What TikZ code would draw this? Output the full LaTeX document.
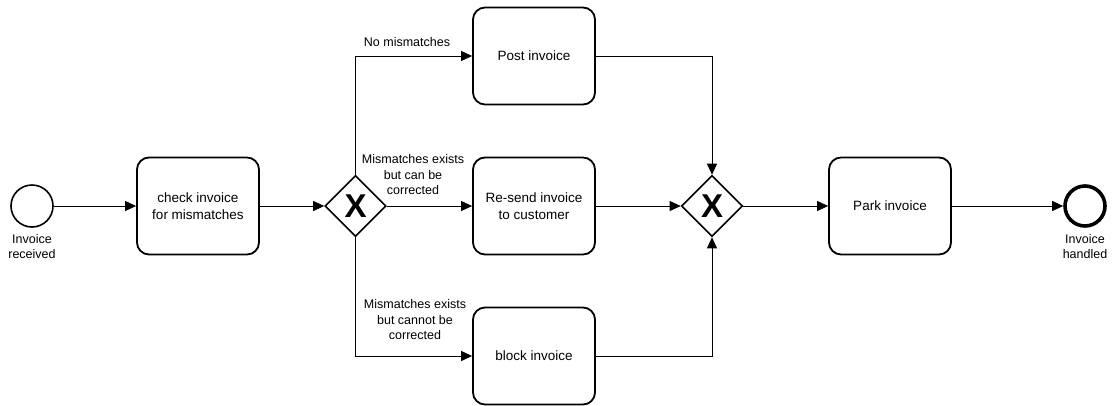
\documentclass[tikz,border=0pt]{standalone}
\usepackage{fontspec}
\setmainfont{Liberation Sans}
\usetikzlibrary{arrows.meta,shapes.geometric}
\begin{document}
\begin{tikzpicture}[x=1pt,y=-1pt,
  task/.style={draw,line width=1.8pt,rounded corners=12pt,minimum width=122pt,minimum height=97pt,
    align=center,font=\fontsize{13.5}{16.5}\selectfont,inner sep=0pt},
  gate/.style={draw,line width=1.6pt,diamond,minimum width=61pt,minimum height=61pt,inner sep=0pt,
    font=\fontsize{33}{33}\selectfont\bfseries},
  startev/.style={draw,line width=1.6pt,circle,minimum size=42pt,inner sep=0pt},
  endev/.style={draw,line width=3.6pt,circle,minimum size=40pt,inner sep=0pt},
  lbl/.style={align=center,font=\fontsize{12.5}{15.5}\selectfont,inner sep=0pt},
  flow/.style={line width=0.8pt,-{Triangle[length=11pt,width=10pt]}}]
\useasboundingbox (0,0) rectangle (1115,405);

% events
\node[startev] (start) at (32,206) {};
\node[lbl,anchor=north] (startlbl) at (32,234) {Invoice\\received};
\node[endev] (end) at (1085,206) {};
\node[lbl,anchor=north] (endlbl) at (1085,234) {Invoice\\handled};

% tasks
\node[task] (check) at (198,206) {check invoice\\for mismatches};
\node[task] (post) at (534,56) {Post invoice};
\node[task] (resend) at (534,206) {Re-send invoice\\to customer};
\node[task] (block) at (534,356) {block invoice};
\node[task] (park) at (890,206) {Park invoice};

% gateways
\node[gate] (g1) at (355.5,206) {X};
\node[gate] (g2) at (712,206) {X};

% sequence flows
\draw[flow] (start) -- (check);
\draw[flow] (check) -- (g1);
\draw[flow] (g1.north) |- (post.west);
\draw[flow] (g1) -- (resend);
\draw[flow] (g1.south) |- (block.west);
\draw[flow] (post.east) -| (g2.north);
\draw[flow] (resend) -- (g2);
\draw[flow] (block.east) -| (g2.south);
\draw[flow] (g2) -- (park);
\draw[flow] (park) -- (end);

% flow labels
\node[lbl] (l1) at (407,42) {No mismatches};
\node[lbl] (l2) at (413,175) {Mismatches exists\\but can be\\corrected};
\node[lbl] (l3) at (415,320) {Mismatches exists\\but cannot be\\corrected};
\end{tikzpicture}
\end{document}
